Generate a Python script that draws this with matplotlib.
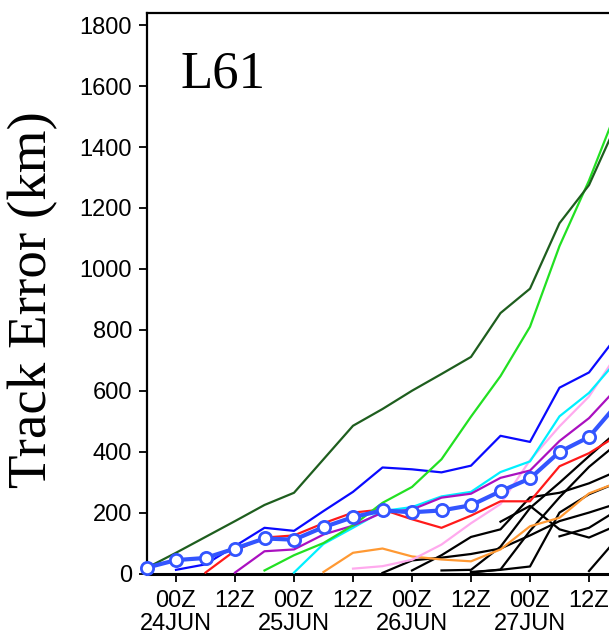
import numpy as np
import matplotlib
matplotlib.use("Agg")
import matplotlib.pyplot as plt

nan = np.nan

# forecast hour from 18Z 23JUN, every 6 h
hours = [0, 6, 12, 18, 24, 30, 36, 42, 48, 54, 60, 66, 72, 78, 84, 90, 96]

dark_green = [18, 68, 120, 172, 225, 265, 375, 485, 540, 600, 655, 711, 855, 935, 1150, 1275, 1490]
lime = [nan, nan, nan, nan, 10, 60, 100, 158, 232, 284, 375, 515, 648, 810, 1075, 1290, 1536]
blue = [nan, 12, 30, 90, 150, 140, 205, 268, 348, 342, 332, 354, 452, 432, 610, 660, 786]
red = [nan, nan, 3, 75, 118, 125, 165, 200, 210, 178, 150, 190, 237, 237, 352, 395, 455]
purple = [nan, nan, nan, 3, 73, 79, 128, 157, 200, 210, 249, 262, 314, 338, 435, 510, 614]
cyan = [nan, nan, nan, nan, nan, 3, 97, 150, 205, 218, 253, 268, 333, 368, 516, 593, 705]
pink = [nan, nan, nan, nan, nan, nan, nan, 16, 24, 45, 95, 165, 228, 372, 483, 581, 727]
orange = [nan, nan, nan, nan, nan, nan, 5, 68, 82, 56, 46, 40, 79, 155, 183, 263, 300]
mean = [19, 44, 51, 82, 115, 111, 152, 185, 207, 201, 207, 224, 270, 312, 399, 448, 561]

black_members = [
    [nan] * 9 + [10, 60, 120, 145, 250, 265, 296, 338],
    [nan] * 8 + [2, 43, 52, 64, 82, 125, 172, 200, 231],
    [nan] * 10 + [10, 12, 88, 215, 298, 385, 470],
    [nan] * 11 + [3, 13, 140, 250, 350, 430],
    [nan] * 11 + [5, 12, 23, 200, 260, 300],
    [nan] * 14 + [122, 150, 210],
    [nan] * 12 + [170, 222, 145, 118, 160],
    [nan] * 15 + [8, 120],
]

tick_hours = [6, 18, 30, 42, 54, 66, 78, 90, 102]
tick_labels = ["00Z\n24JUN", "12Z", "00Z\n25JUN", "12Z", "00Z\n26JUN",
               "12Z", "00Z\n27JUN", "12Z", "00Z\n28JUN"]

fig = plt.figure(figsize=(6.09, 6.35), dpi=100)
ax = fig.add_axes([146.5 / 609, 61.5 / 635, 590 / 609, 560.5 / 635])

for b in black_members:
    ax.plot(hours, b, color="black", lw=1.6, zorder=2)

ax.plot(hours, orange, color="#ff9933", lw=1.6, zorder=3)
ax.plot(hours, pink, color="#ffaaee", lw=1.6, zorder=3)
ax.plot(hours, cyan, color="#00f0ff", lw=1.6, zorder=3)
ax.plot(hours, purple, color="#aa10c0", lw=1.6, zorder=3)
ax.plot(hours, red, color="#ff1a1a", lw=1.6, zorder=3)
ax.plot(hours, blue, color="#0a0aff", lw=1.6, zorder=3)
ax.plot(hours, lime, color="#22e022", lw=1.6, zorder=3)
ax.plot(hours, dark_green, color="#1e5e1e", lw=1.6, zorder=3)
ax.plot(hours, mean, color="#3355ff", lw=3, marker="o", ms=8.8,
        mfc="white", mec="#3355ff", mew=2, zorder=5, clip_on=False)

ax.set_xlim(0, 120)
ax.set_ylim(0, 1840)
ax.set_yticks(range(0, 1801, 200))
ax.set_xticks(tick_hours)
ax.set_xticklabels(tick_labels, linespacing=1.05)

for lab in ax.get_xticklabels() + ax.get_yticklabels():
    lab.set_fontfamily("Liberation Sans")
    lab.set_fontsize(17)

ax.tick_params(axis="y", direction="out", length=5.5, width=1.3, pad=5)
ax.tick_params(axis="x", direction="out", length=6, width=1.3, pad=6)
for side in ["left", "bottom", "top", "right"]:
    ax.spines[side].set_linewidth(1.6)
ax.spines["bottom"].set_linewidth(2.2)

fig.text(33 / 609, 1 - 300 / 635, "Track Error (km)", rotation=90,
         ha="center", va="center", family="Liberation Serif", fontsize=39.5)
fig.text(180 / 609, 1 - 88 / 635, "L61", ha="left", va="baseline",
         family="Liberation Serif", fontsize=38)

fig.savefig("out.png", dpi=100)
